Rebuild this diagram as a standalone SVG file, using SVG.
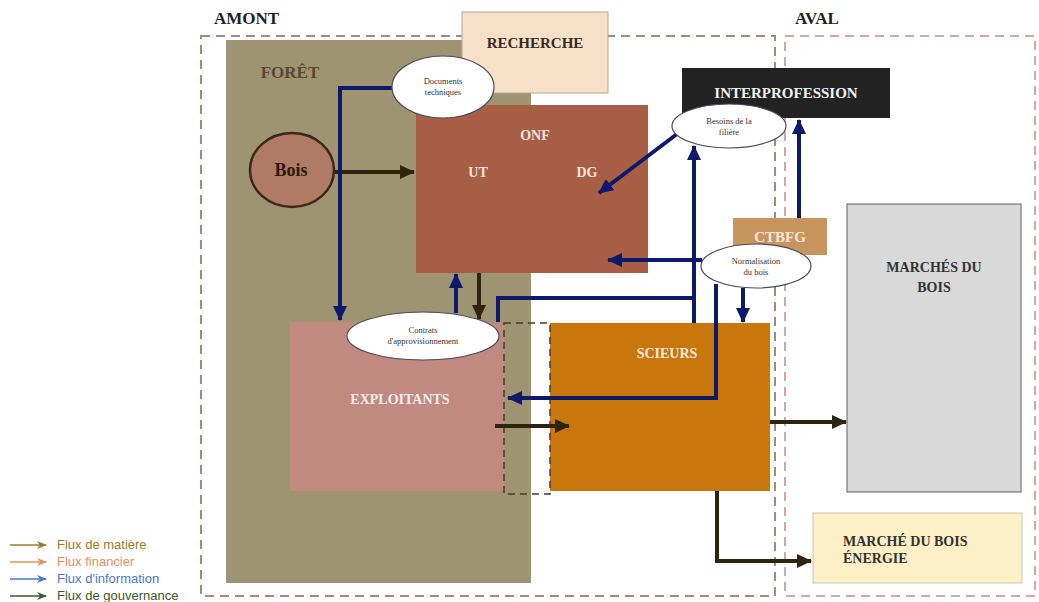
<svg xmlns="http://www.w3.org/2000/svg" width="1039" height="602" viewBox="0 0 1039 602">
<style>
.t{font-family:"Liberation Serif",serif;font-weight:bold;text-anchor:middle}
.s{font-family:"Liberation Serif",serif;text-anchor:middle;font-size:8.5px;fill:#333}
.blue{fill:none;stroke:#0d1a6b;stroke-width:4}
.brown{fill:none;stroke:#2e2410;stroke-width:4}
.ell{fill:#fff;stroke:#4a4a5a;stroke-width:1.2}
.leg{font-family:"Liberation Sans",Arial,sans-serif;font-size:13px}
</style>
<defs>
<marker id="ab" markerUnits="userSpaceOnUse" markerWidth="16" markerHeight="16" refX="14" refY="8" orient="auto"><path d="M0,1 L15,8 L0,15 Z" fill="#0d1a6b"/></marker>
<marker id="ar" markerUnits="userSpaceOnUse" markerWidth="16" markerHeight="16" refX="14" refY="8" orient="auto"><path d="M0,1 L15,8 L0,15 Z" fill="#2e2410"/></marker>
<marker id="l1" markerUnits="userSpaceOnUse" markerWidth="10" markerHeight="8" refX="9" refY="4" orient="auto"><path d="M0,0 L10,4 L0,8 L3,4 Z" fill="#9c7a2a"/></marker>
<marker id="l2" markerUnits="userSpaceOnUse" markerWidth="10" markerHeight="8" refX="9" refY="4" orient="auto"><path d="M0,0 L10,4 L0,8 L3,4 Z" fill="#e8905a"/></marker>
<marker id="l3" markerUnits="userSpaceOnUse" markerWidth="10" markerHeight="8" refX="9" refY="4" orient="auto"><path d="M0,0 L10,4 L0,8 L3,4 Z" fill="#4a78cc"/></marker>
<marker id="l4" markerUnits="userSpaceOnUse" markerWidth="10" markerHeight="8" refX="9" refY="4" orient="auto"><path d="M0,0 L10,4 L0,8 L3,4 Z" fill="#3c5a28"/></marker>
</defs>
<rect width="1039" height="602" fill="#fff"/>

<g id="zones">
<rect x="201" y="36" width="574" height="560" fill="none" stroke="#a48a7c" stroke-width="2" stroke-dasharray="9,6"/>
<rect x="785" y="36" width="250" height="560" fill="none" stroke="#d0a8a8" stroke-width="2" stroke-dasharray="9,6"/>
<text class="t" x="214" y="24" font-size="17" fill="#222" style="text-anchor:start">AMONT</text>
<text class="t" x="795" y="24" font-size="17" fill="#222" style="text-anchor:start">AVAL</text>
</g>

<g id="foret">
<rect x="226" y="40" width="305" height="543" fill="#9e9472"/>
<text class="t" x="290" y="78" font-size="17" fill="#5a4830">FORÊT</text>
</g>

<g id="recherche">
<rect x="462" y="12" width="146" height="81" fill="#f6e0c8" stroke="#b8a890" stroke-width="1"/>
<text class="t" x="535" y="48" font-size="15" fill="#3a2a20">RECHERCHE</text>
</g>

<g id="onf">
<rect x="416" y="105" width="232" height="168" fill="#a85d45"/>
<text class="t" x="535" y="140" font-size="14" fill="#f5e6dc">ONF</text>
<text class="t" x="478" y="177" font-size="14" fill="#f5e6dc">UT</text>
<text class="t" x="587" y="177" font-size="14" fill="#f5e6dc">DG</text>
</g>

<g id="bois">
<ellipse cx="292" cy="170" rx="42" ry="37" fill="#b07a64" stroke="#3a2818" stroke-width="2.5"/>
<text class="t" x="291" y="176" font-size="18" fill="#2a1a10">Bois</text>
</g>

<g id="exploitants">
<rect x="290" y="322" width="214" height="169" fill="#c08a80"/>
<text class="t" x="400" y="404" font-size="14" fill="#f8ecea">EXPLOITANTS</text>
</g>

<g id="scieurs">
<rect x="550" y="323" width="220" height="168" fill="#c9760d"/>
<text class="t" x="667" y="358" font-size="14" fill="#f8ecde">SCIEURS</text>
</g>

<g id="zone-commune">
<rect x="504" y="323" width="46" height="171" fill="none" stroke="#4a3a2a" stroke-width="1.5" stroke-dasharray="7,5"/>
</g>

<g id="interprofession">
<rect x="682" y="68" width="208" height="50" fill="#222"/>
<text class="t" x="786" y="98" font-size="15" fill="#f2f2f2">INTERPROFESSION</text>
</g>

<g id="ctbfg">
<rect x="733" y="218" width="94" height="37" fill="#c9955f"/>
<text class="t" x="780" y="242" font-size="15" fill="#f6e8da">CTBFG</text>
</g>

<g id="marches">
<rect x="847" y="204" width="174" height="288" fill="#d9d9d9" stroke="#777" stroke-width="1.2"/>
<text class="t" x="934" y="272" font-size="14" fill="#333">MARCHÉS DU</text>
<text class="t" x="934" y="292" font-size="14" fill="#333">BOIS</text>
</g>

<g id="energie">
<rect x="813" y="513" width="209" height="70" fill="#fdefc6" stroke="#cfc6b0" stroke-width="1"/>
<text class="t" x="843" y="546" font-size="14" fill="#333" style="text-anchor:start">MARCHÉ DU BOIS</text>
<text class="t" x="843" y="563" font-size="14" fill="#333" style="text-anchor:start">ÉNERGIE</text>
</g>

<g id="connectors">
<path class="brown" d="M335,172 H414" marker-end="url(#ar)"/>
<path class="blue" d="M392,88 H340 V320" marker-end="url(#ab)"/>
<path class="blue" d="M456,313 V274" marker-end="url(#ab)"/>
<path class="brown" d="M479,273 V319" marker-end="url(#ar)"/>
<path class="blue" d="M498,322 V298 H694"/>
<path class="blue" d="M694,323 V146" marker-end="url(#ab)"/>
<path class="blue" d="M677,134 L599,193" marker-end="url(#ab)"/>
<path class="blue" d="M702,260 H608" marker-end="url(#ab)"/>
<path class="blue" d="M799,218 V120" marker-end="url(#ab)"/>
<path class="blue" d="M743,288 V322" marker-end="url(#ab)"/>
<path class="blue" d="M716,284 V398 H508" marker-end="url(#ab)"/>
<path class="brown" d="M495,426 H569" marker-end="url(#ar)"/>
<path class="brown" d="M770,422 H846" marker-end="url(#ar)"/>
<path class="brown" d="M717,491 V561 H811" marker-end="url(#ar)"/>
</g>

<g id="ellipses">
<ellipse class="ell" cx="443" cy="87" rx="51" ry="31"/>
<text class="s" x="443" y="84">Documents</text>
<text class="s" x="443" y="95">techniques</text>
<ellipse class="ell" cx="729" cy="126" rx="57" ry="22"/>
<text class="s" x="729" y="124">Besoins de la</text>
<text class="s" x="729" y="135">filière</text>
<ellipse class="ell" cx="756" cy="266" rx="55" ry="22"/>
<text class="s" x="756" y="264">Normalisation</text>
<text class="s" x="756" y="275">du bois</text>
<ellipse class="ell" cx="423" cy="336" rx="76" ry="24"/>
<text class="s" x="423" y="333">Contrats</text>
<text class="s" x="423" y="344">d'approvisionnement</text>
</g>

<g id="legend">
<path d="M10,545 H46" stroke="#9c7a2a" stroke-width="1.5" marker-end="url(#l1)"/>
<text class="leg" x="57" y="549" fill="#a07a28">Flux de matière</text>
<path d="M10,562 H46" stroke="#e8905a" stroke-width="1.5" marker-end="url(#l2)"/>
<text class="leg" x="57" y="566" fill="#e8905a">Flux financier</text>
<path d="M10,579 H46" stroke="#4a78cc" stroke-width="1.5" marker-end="url(#l3)"/>
<text class="leg" x="57" y="583" fill="#4a78cc">Flux d'information</text>
<path d="M10,596 H46" stroke="#3c5a28" stroke-width="1.5" marker-end="url(#l4)"/>
<text class="leg" x="57" y="600" fill="#3c5a28">Flux de gouvernance</text>
</g>
</svg>
